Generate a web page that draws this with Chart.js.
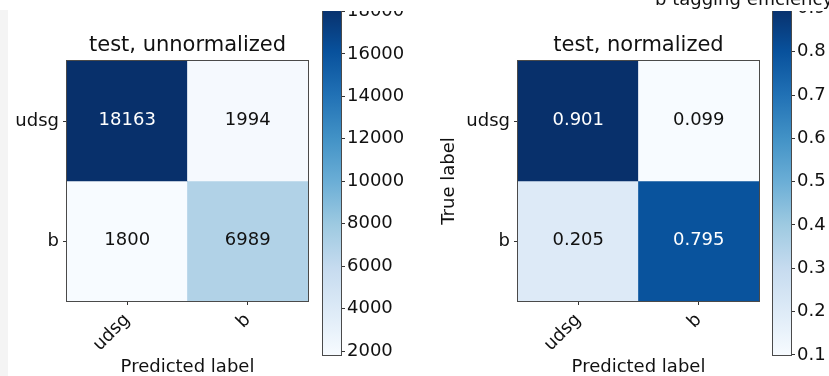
<!DOCTYPE html>
<html>
<head>
<meta charset="utf-8">
<script src="https://cdn.jsdelivr.net/npm/chart.js@4.4.1/dist/chart.umd.min.js"></script>
<style>
  html, body { margin: 0; padding: 0; background: #fff; width: 829px; height: 376px; overflow: hidden; }
  .box { position: absolute; top: 0; height: 376px; }
  #band { position: absolute; left: 0; top: 0; width: 829px; height: 11px; background: #fff; z-index: 2; }
  #strip { position: absolute; left: 0; top: 10px; width: 8px; height: 366px; background: #f4f4f4; z-index: 2; }
  #suptitle { position: absolute; left: 655px; top: -10px; font-family: "DejaVu Sans", sans-serif; font-size: 18px;
              line-height: 18px; white-space: nowrap; color: #111; z-index: 3; }
</style>
</head>
<body>
<div class="box" style="left:0;width:320px"><canvas id="cmRaw"></canvas></div>
<div class="box" style="left:300px;width:110px"><canvas id="cbRaw"></canvas></div>
<div class="box" style="left:420px;width:350px"><canvas id="cmNorm"></canvas></div>
<div class="box" style="left:750px;width:79px"><canvas id="cbNorm"></canvas></div>
<div id="band"></div>
<div id="strip"></div>
<div id="suptitle">b tagging efficiency</div>
<script>
// labels of the confusion matrix
const trueLabels = ['udsg', 'b'];
const predLabels = ['udsg', 'b'];

// cell values, rows = true label, cols = predicted label
const countsRaw = [[18163, 1994], [1800, 6989]];
const countsNorm = [[0.901, 0.099], [0.205, 0.795]];

// colorbar tick labels
const rawBarTicks = [2000, 4000, 6000, 8000, 10000, 12000, 14000, 16000, 18000];
const normBarTicks = [0.1, 0.2, 0.3, 0.4, 0.5, 0.6, 0.7, 0.8, 0.9];

const FONT = '"DejaVu Sans", sans-serif';
Chart.defaults.font.family = FONT;
Chart.defaults.color = '#111';

// matplotlib "Blues" colormap
const BLUES = ['#f7fbff', '#deebf7', '#c6dbef', '#9ecae1', '#6baed6', '#4292c6', '#2171b5', '#08519c', '#08306b'];
function hexRgb(h) {
    return [1, 3, 5].map(i => parseInt(h.slice(i, i + 2), 16));
}
function blues(t) {
    t = Math.max(0, Math.min(1, t));
    const p = t * (BLUES.length - 1);
    const i = Math.min(Math.floor(p), BLUES.length - 2);
    const f = p - i;
    const a = hexRgb(BLUES[i]), b = hexRgb(BLUES[i + 1]);
    const c = a.map((v, k) => Math.round(v + (b[k] - v) * f));
    return 'rgb(' + c.join(',') + ')';
}

// frame around the plot area, like matplotlib spines
const frame = {
    id: 'frame',
    afterDatasetsDraw(chart) {
        const a = chart.chartArea;
        const ctx = chart.ctx;
        ctx.save();
        ctx.strokeStyle = '#4a4a4a';
        ctx.lineWidth = 1;
        ctx.strokeRect(Math.round(a.left) - 0.5, Math.round(a.top) - 0.5,
            Math.round(a.right) - Math.round(a.left) + 1, Math.round(a.bottom) - Math.round(a.top) + 1);
        ctx.restore();
    }
};

// value written in every cell
const cellText = {
    id: 'cellText',
    afterDatasetsDraw(chart, args, opts) {
        const ctx = chart.ctx;
        const vals = opts.values;
        const hi = Math.max(...vals.flat());
        ctx.save();
        ctx.font = '18px ' + FONT;
        ctx.textAlign = 'center';
        ctx.textBaseline = 'middle';
        chart.data.datasets.forEach((ds, r) => {
            chart.getDatasetMeta(r).data.forEach((bar, c) => {
                const v = vals[r][c];
                ctx.fillStyle = v > hi / 2 ? '#fff' : '#111';
                ctx.fillText(opts.fmt(v), bar.x, (bar.y + bar.base) / 2 - 1);
            });
        });
        ctx.restore();
    }
};

function matrixChart(id, values, title, fmt, yTitle, yWidth, padRight) {
    const flat = values.flat();
    const lo = Math.min(...flat), hi = Math.max(...flat);
    const n = trueLabels.length;
    const datasets = trueLabels.map((row, r) => ({
        label: row,
        data: predLabels.map(() => [n - 1 - r, n - r]),
        backgroundColor: values[r].map(v => blues((v - lo) / (hi - lo))),
        borderWidth: 0,
        barPercentage: 1,
        categoryPercentage: 1,
        grouped: false
    }));
    const axisGrid = { display: true, drawOnChartArea: false, drawTicks: true, tickLength: 4, color: '#333', offset: false };
    return new Chart(document.getElementById(id), {
        type: 'bar',
        data: { labels: predLabels, datasets: datasets },
        options: {
            responsive: true,
            maintainAspectRatio: false,
            animation: false,
            layout: { padding: { left: 0, top: 0, bottom: 0, right: padRight } },
            plugins: {
                legend: { display: false },
                tooltip: { enabled: false },
                title: {
                    display: true, text: title, fullSize: false, color: '#111',
                    font: { size: 21, weight: 'normal', lineHeight: 1.2 },
                    padding: { top: 33, bottom: 2.8 }
                },
                cellText: { values: values, fmt: fmt }
            },
            scales: {
                x: {
                    grid: axisGrid,
                    border: { display: false },
                    ticks: { minRotation: 45, maxRotation: 45, padding: 0, color: '#111', font: { size: 18, lineHeight: 1.9 } },
                    title: { display: true, text: 'Predicted label', color: '#111', font: { size: 18, lineHeight: 1 }, padding: 0 },
                    afterFit: s => { s.height = 75; s.paddingLeft = 0; s.paddingRight = 0; }
                },
                y: {
                    type: 'linear', min: 0, max: n,
                    grid: axisGrid,
                    border: { display: false },
                    afterBuildTicks: s => { s.ticks = trueLabels.map((l, i) => ({ value: n - i - 0.5 })); },
                    ticks: { padding: 4, color: '#111', font: { size: 18, lineHeight: 1 },
                             callback: v => trueLabels[n - 1 - Math.floor(v)] },
                    title: { display: !!yTitle, text: yTitle || '', color: '#111', font: { size: 18, lineHeight: 1 },
                             padding: { top: 20, bottom: 0 } },
                    afterFit: s => { s.width = yWidth; s.paddingTop = 0; s.paddingBottom = 0; }
                }
            }
        },
        plugins: [cellText, frame]
    });
}

function colorBar(id, values, ticks, fmt, axisWidth) {
    const flat = values.flat();
    const lo = Math.min(...flat), hi = Math.max(...flat);
    return new Chart(document.getElementById(id), {
        type: 'bar',
        data: {
            labels: [''],
            datasets: [{
                data: [[lo, hi]],
                backgroundColor: context => {
                    const y = context.chart.scales.y;
                    const area = context.chart.chartArea;
                    if (!y || !area) return blues(0.5);
                    const y0 = y.getPixelForValue(lo), y1 = y.getPixelForValue(hi);
                    if (!Number.isFinite(y0) || !Number.isFinite(y1)) return blues(0.5);
                    const g = context.chart.ctx.createLinearGradient(0, y0, 0, y1);
                    BLUES.forEach((c, i) => g.addColorStop(i / (BLUES.length - 1), c));
                    return g;
                },
                borderWidth: 0,
                barPercentage: 1,
                categoryPercentage: 1
            }]
        },
        options: {
            responsive: true,
            maintainAspectRatio: false,
            animation: false,
            layout: { padding: { left: 23, top: 8, bottom: 20.7, right: 0 } },
            plugins: { legend: { display: false }, tooltip: { enabled: false } },
            scales: {
                x: { display: false },
                y: {
                    position: 'right', min: lo, max: hi,
                    grid: { display: true, drawOnChartArea: false, tickLength: 4, color: '#333' },
                    border: { display: false },
                    afterBuildTicks: s => { s.ticks = ticks.map(v => ({ value: v })); },
                    ticks: { padding: 2, color: '#111', font: { size: 18, lineHeight: 1 }, callback: v => fmt(v) },
                    afterFit: s => { s.width = axisWidth; s.paddingTop = 0; s.paddingBottom = 0; }
                }
            }
        },
        plugins: [frame]
    });
}

matrixChart('cmRaw', countsRaw, 'test, unnormalized', v => String(v), null, 67, 12);
colorBar('cbRaw', countsRaw, rawBarTicks, v => String(v), 69);
matrixChart('cmNorm', countsNorm, 'test, normalized', v => v.toFixed(3), 'True label', 98, 11);
colorBar('cbNorm', countsNorm, normBarTicks, v => v.toFixed(1), 38);
</script>
</body>
</html>
